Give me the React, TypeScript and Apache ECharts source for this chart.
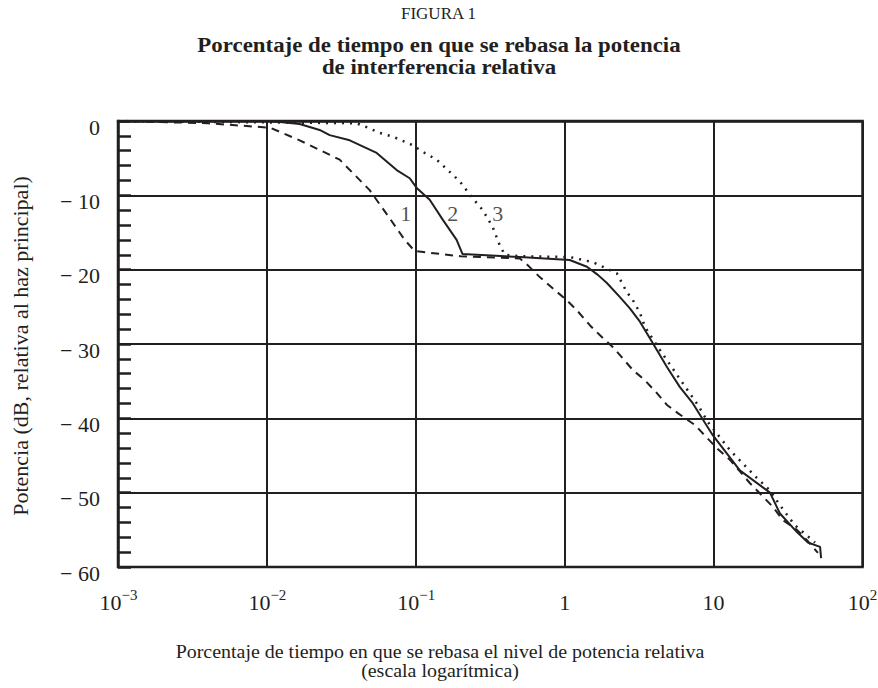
import React, { useEffect, useRef } from 'react';
import * as echarts from 'echarts';

const FONT = '"Liberation Serif", "DejaVu Serif", serif';
const INK = '#231f20';

// Curva 1 (trazos)
const curva1Pct = [0.001, 0.004, 0.0105, 0.0166, 0.0308, 0.049, 0.0647, 0.0843, 0.0984, 0.2, 0.5, 0.565, 0.68, 0.83, 1.03, 1.2, 1.48, 1.72, 2.1, 2.35, 2.87, 3.46, 4.16, 4.86, 5.75, 7.49, 10.5, 12.9, 17.5, 25, 29.2, 36.3, 42.4, 50.2];
const curva1Db = [0, -0.3, -0.9, -2.6, -5.2, -9.3, -12.7, -16, -17.5, -18.2, -18.5, -19.4, -21, -22.5, -24.1, -25.4, -27.5, -28.8, -30.4, -31.5, -33.5, -34.9, -36.6, -38.2, -39.3, -40.9, -44, -45.6, -48.7, -51.9, -53.7, -55, -56.4, -58.1];

// Curva 2 (continua)
const curva2Pct = [0.001, 0.0105, 0.0166, 0.0226, 0.0264, 0.036, 0.0546, 0.0744, 0.091, 0.1014, 0.124, 0.152, 0.188, 0.206, 0.5, 1.08, 1.41, 1.67, 1.92, 2.35, 2.74, 3.2, 3.91, 4.86, 5.94, 7.26, 8.74, 9.9, 15, 23.9, 27.9, 36.3, 43, 51.9, 52.7];
const curva2Db = [0, 0, -0.4, -1.2, -1.9, -2.6, -4.3, -6.6, -7.7, -9.0, -10.6, -13.3, -16, -17.9, -18.3, -18.7, -19.6, -20.7, -21.8, -23.7, -25.2, -27, -29.9, -33.1, -35.8, -38, -40.6, -42.3, -47, -50, -52.8, -55.3, -56.7, -57.3, -58.8];

// Curva 3 (puntos)
const curva3Pct = [0.001, 0.04, 0.049, 0.0572, 0.07, 0.094, 0.115, 0.138, 0.164, 0.197, 0.241, 0.282, 0.329, 0.366, 0.396, 0.5, 1.08, 1.55, 2.24, 2.61, 2.87, 3.2, 3.46, 4.36, 6.12, 7.84, 9.15, 12.9, 19.5, 23.9, 27.9, 35.2, 48];
const curva3Db = [0, -0.3, -1, -1.6, -2.1, -3.2, -4.3, -5.2, -6.6, -8.1, -10.4, -12, -14.3, -16.7, -18, -18.2, -18.3, -19, -20.5, -23, -24.1, -25.8, -27.7, -30.8, -35.1, -38.2, -40.5, -44.3, -48, -49.7, -51.7, -54.4, -56.7];

// Etiquetas de curva
const etiquetasTexto = ['1', '2', '3'];
const etiquetasPct = [0.0855, 0.177, 0.355];
const etiquetasDb = [-12.4, -12.4, -12.4];

// Marcas de ejes
const xTickValues = [0.001, 0.01, 0.1, 1, 10, 100];
const xTickBase = ['10', '10', '10', '1', '10', '10'];
const xTickExp = ['−3', '−2', '−1', '', '', '2'];
const yTickValues = [0, -10, -20, -30, -40, -50, -60];
const yTickLabels = ['0', '− 10', '− 20', '− 30', '− 40', '− 50', '− 60'];

const zip = (xs: number[], ys: number[]) => xs.map((x, i) => [x, ys[i]]);

const baseGraphic = [
  {
    id: 'fig', type: 'text', left: 'center', top: 5,
    style: { text: 'FIGURA 1', font: `17px ${FONT}`, fill: INK },
  },
  {
    id: 'tit1', type: 'text', x: 439, y: 45, scaleX: 1.09,
    style: {
      text: 'Porcentaje de tiempo en que se rebasa la potencia',
      font: `bold 21px ${FONT}`, fill: INK, align: 'center', verticalAlign: 'middle',
    },
  },
  {
    id: 'tit2', type: 'text', x: 439, y: 66.5, scaleX: 1.09,
    style: {
      text: 'de interferencia relativa',
      font: `bold 21px ${FONT}`, fill: INK, align: 'center', verticalAlign: 'middle',
    },
  },
  {
    id: 'yname', type: 'text', x: 20, y: 346, rotation: Math.PI / 2,
    style: {
      text: 'Potencia (dB, relativa al haz principal)',
      font: `22px ${FONT}`, fill: INK, align: 'center', verticalAlign: 'middle',
    },
  },
  {
    id: 'xname1', type: 'text', x: 440, y: 651.5, scaleX: 1.05,
    style: {
      text: 'Porcentaje de tiempo en que se rebasa el nivel de potencia relativa',
      font: `19px ${FONT}`, fill: INK, align: 'center', verticalAlign: 'middle',
    },
  },
  {
    id: 'xname2', type: 'text', x: 440, y: 671, scaleX: 1.05,
    style: {
      text: '(escala logarítmica)',
      font: `19px ${FONT}`, fill: INK, align: 'center', verticalAlign: 'middle',
    },
  },
];

export default function App() {
  const ref = useRef<HTMLDivElement>(null);
  useEffect(() => {
    if (!ref.current) return;
    const chart = echarts.init(ref.current, null, { renderer: 'svg' });
    chart.setOption({
      animation: false,
      backgroundColor: '#ffffff',
      textStyle: { fontFamily: FONT, color: INK },
      grid: {
        left: 118,
        top: 121,
        right: 15.5,
        bottom: 121,
        show: true,
        borderColor: INK,
        borderWidth: 2.5,
        outerBoundsMode: 'none',
      },
      graphic: baseGraphic,
      xAxis: {
        type: 'log',
        logBase: 10,
        min: 0.001,
        max: 100,
        axisLine: { show: true, lineStyle: { color: INK, width: 2.5 } },
        axisTick: { show: false },
        splitLine: { show: true, lineStyle: { color: INK, width: 2 } },
        axisLabel: { show: false },
      },
      yAxis: {
        type: 'value',
        min: -60,
        max: 0,
        interval: 10,
        axisLine: { show: true, lineStyle: { color: INK, width: 2.5 } },
        axisTick: { show: true, inside: true, length: 13, lineStyle: { color: INK, width: 2.5 } },
        minorTick: { show: true, splitNumber: 5, length: 13, lineStyle: { color: INK, width: 2.5 } },
        splitLine: { show: true, lineStyle: { color: INK, width: 2 } },
        axisLabel: {
          margin: 18,
          fontSize: 22,
          fontFamily: FONT,
          color: INK,
          verticalAlign: 'top',
          lineHeight: 12,
          formatter: (v: number) => {
            const i = yTickValues.indexOf(Math.round(v));
            return i >= 0 ? yTickLabels[i] : '';
          },
        },
      },
      series: [
        {
          name: '1',
          type: 'line',
          data: zip(curva1Pct, curva1Db),
          symbol: 'none',
          lineStyle: { color: INK, width: 2, type: [8, 6] },
        },
        {
          name: '2',
          type: 'line',
          data: zip(curva2Pct, curva2Db),
          symbol: 'none',
          lineStyle: { color: INK, width: 2 },
        },
        {
          name: '3',
          type: 'line',
          data: zip(curva3Pct, curva3Db),
          symbol: 'none',
          lineStyle: { color: INK, width: 2.5, type: [2, 6] },
        },
        {
          name: 'etiquetas',
          type: 'scatter',
          symbolSize: 0,
          data: etiquetasPct.map((x, i) => [x, etiquetasDb[i], etiquetasTexto[i]]),
          label: {
            show: true,
            position: 'inside',
            formatter: (p: any) => p.data[2],
            fontSize: 22,
            fontFamily: FONT,
            color: INK,
          },
        },
      ],
    });
    const yBottom = chart.convertToPixel({ yAxisIndex: 0 }, -60) as number;
    const tickTexts: any[] = [];
    xTickValues.forEach((v, i) => {
      const px = chart.convertToPixel({ xAxisIndex: 0 }, v) as number;
      const hasExp = xTickExp[i] !== '';
      const baseW = xTickBase[i].length * 11;
      const expW = hasExp ? xTickExp[i].length * 7.5 : 0;
      const left = px - (baseW + expW) / 2;
      tickTexts.push({
        id: 'xb' + i,
        type: 'text',
        x: left,
        y: yBottom + 35,
        style: { text: xTickBase[i], font: `22px ${FONT}`, fill: INK, align: 'left', verticalAlign: 'middle' },
      });
      if (hasExp) {
        tickTexts.push({
          id: 'xe' + i,
          type: 'text',
          x: left + baseW,
          y: yBottom + 28,
          style: { text: xTickExp[i], font: `15px ${FONT}`, fill: INK, align: 'left', verticalAlign: 'middle' },
        });
      }
    });
    chart.setOption({ graphic: [...baseGraphic, ...tickTexts] });
    return () => chart.dispose();
  }, []);
  return (
    <div
      ref={ref}
      style={{ position: 'fixed', left: 0, top: 0, width: 878, height: 688, background: '#fff' }}
    />
  );
}
